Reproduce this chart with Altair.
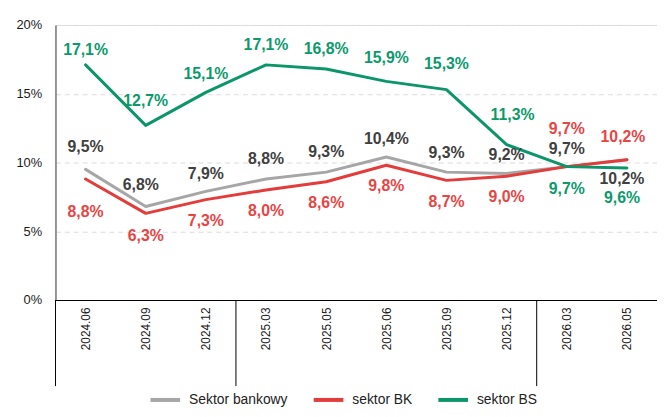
import altair as alt
import pandas as pd

periods = ["2024.06", "2024.09", "2024.12", "2025.03", "2025.05",
           "2025.06", "2025.09", "2025.12", "2026.03", "2026.05"]
sektor_bankowy = [9.5, 6.8, 7.9, 8.8, 9.3, 10.4, 9.3, 9.2, 9.7, 10.2]
sektor_bk = [8.8, 6.3, 7.3, 8.0, 8.6, 9.8, 8.7, 9.0, 9.7, 10.2]
sektor_bs = [17.1, 12.7, 15.1, 17.1, 16.8, 15.9, 15.3, 11.3, 9.7, 9.6]
series_names = ["Sektor bankowy", "sektor BK", "sektor BS"]

# --- styling -------------------------------------------------------------
line_colors = ["#a6a6a6", "#e43b3b", "#0b966a"]
text_colors = ["#404040", "#e84444", "#0b9a6c"]
# label offsets in pixels (negative = above the point)
label_dy = {
    "Sektor bankowy": [-23, -22, -18, -20, -20, -18, -19, -19, -18, 20],
    "sektor BK": [33, 23, 22, 21, 22, 21, 22, 21, -38, -23],
    "sektor BS": [-15, -25, -19, -20, -20, -24, -26, -30, 23, 30],
}
label_dx = {
    "Sektor bankowy": [0, -5, 0, 0, 0, 0, 0, 0, 0, -5],
    "sektor BK": [0, 0, 0, 0, 0, 0, 0, 0, 0, -4],
    "sektor BS": [0, 0, 0, 0, 0, 0, 0, 6, 0, -5],
}

rows = []
for name, vals in zip(series_names, [sektor_bankowy, sektor_bk, sektor_bs]):
    for i, v in enumerate(vals):
        rows.append({
            "idx": i,
            "period": periods[i],
            "series": name,
            "value": v / 100.0,
            "label": f"{v:.1f}".replace(".", ",") + "%",
            "dy": label_dy[name][i],
            "dx": label_dx[name][i],
        })
df = pd.DataFrame(rows)

# group separators where the year changes
years = [p.split(".")[0] for p in periods]
seps = [-0.5] + [i - 0.5 for i in range(1, len(years)) if years[i] != years[i - 1]]
sep_df = pd.DataFrame({"pos": seps})

W, H = 608, 278
label_expr = "[" + ",".join(f"'{p}'" for p in periods) + "][datum.value]"

x_enc = alt.X(
    "idx:Q",
    scale=alt.Scale(domain=[-0.5, len(periods) - 0.5], nice=False, zero=False),
    axis=alt.Axis(
        values=list(range(len(periods))),
        labelExpr=label_expr,
        labelAngle=-90,
        labelAlign="right",
        labelBaseline="middle",
        labelPadding=7,
        labelFontSize=12,
        labelColor="#1a1a1a",
        labelFont="Liberation Sans",
        ticks=False,
        grid=False,
        domainColor="#000000",
        domainWidth=1,
        title=None,
    ),
)
y_enc = alt.Y(
    "value:Q",
    scale=alt.Scale(domain=[0, 0.2], nice=False),
    axis=alt.Axis(
        values=[0, 0.05, 0.1, 0.15, 0.2],
        format=".0%",
        labelFontSize=13,
        labelColor="#1a1a1a",
        labelFont="Liberation Sans",
        labelPadding=14,
        ticks=False,
        grid=True,
        gridColor="#dcdcdc",
        gridDash=[5, 4],
        gridWidth=1,
        domainColor="#404040",
        domainWidth=1,
        title=None,
    ),
)
color_scale = alt.Scale(domain=series_names, range=line_colors)

base = alt.Chart(df)

lines = []
for name in series_names:
    layer = base.transform_filter(alt.datum.series == name).mark_line(
        strokeWidth=3, strokeCap="round", strokeJoin="round"
    ).encode(
        x=x_enc,
        y=y_enc,
        color=alt.Color(
            "series:N",
            scale=color_scale,
            legend=alt.Legend(
                orient="none",
                legendX=94,
                legendY=362,
                direction="horizontal",
                title=None,
                symbolType="stroke",
                symbolSize=900,
                symbolStrokeWidth=4,
                labelFontSize=14,
                labelFont="Liberation Sans",
                labelColor="#222222",
                labelOffset=7,
                columnPadding=18,
                padding=0,
            ),
        ),
    )
    lines.append(layer)

texts = []
for name, tcol in zip(series_names, text_colors):
    sub = df[df.series == name]
    for (d, dxv) in sorted(set(zip(sub.dy, sub.dx))):
        t = base.transform_filter(
            (alt.datum.series == name) & (alt.datum.dy == int(d)) & (alt.datum.dx == int(dxv))
        ).mark_text(
            dy=int(d), dx=int(dxv), fontSize=16, fontWeight="bold",
            font="Liberation Sans", color=tcol, baseline="middle", align="center",
        ).encode(x=alt.X("idx:Q"), y=alt.Y("value:Q"), text="label:N")
        texts.append(t)

separators = alt.Chart(sep_df).mark_rule(color="#000000", strokeWidth=1).encode(
    x=alt.X("pos:Q"),
    y=alt.value(H),
    y2=alt.value(H + 87),
)

chart = alt.layer(separators, *lines, *texts).properties(
    width=W,
    height=H,
    autosize=alt.AutoSizeParams(type="none"),
    padding={"left": 48, "top": 15, "right": 0, "bottom": 108},
).configure_view(stroke=None).configure(font="Liberation Sans")

chart.save("out.html", embed_options={"renderer": "svg", "actions": False})
